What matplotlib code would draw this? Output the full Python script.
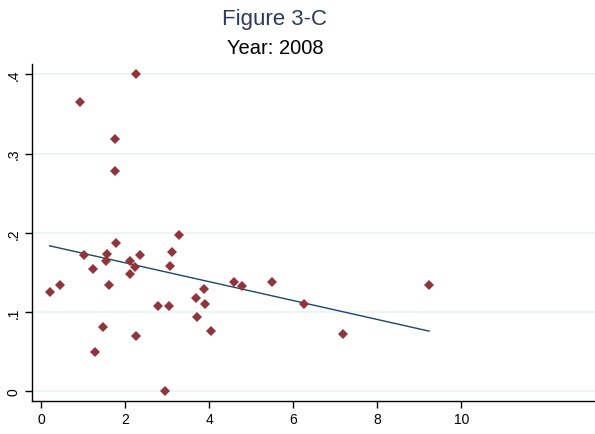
import numpy as np
import matplotlib.pyplot as plt

plt.rcParams['font.family'] = ['Liberation Sans', 'DejaVu Sans']

# observations for 2008
x_vals = [0.195, 0.45, 1.02, 1.22, 1.57, 1.54, 1.77, 1.60, 2.11, 2.11, 2.22, 2.35,
          3.27, 3.11, 3.07, 2.77, 3.04, 3.67, 3.87, 3.89, 3.70, 4.04, 4.59, 4.77,
          5.49, 1.47, 2.24, 1.27, 2.94, 6.26, 7.19, 9.23, 2.24, 0.917, 1.74, 1.74]
y_vals = [0.1256, 0.1337, 0.172, 0.1546, 0.173, 0.165, 0.1866, 0.1337, 0.164, 0.148,
          0.157, 0.172, 0.197, 0.176, 0.158, 0.108, 0.108, 0.118, 0.129, 0.110,
          0.094, 0.0757, 0.1374, 0.1324, 0.1374, 0.0807, 0.0701, 0.0492, 0.0,
          0.1097, 0.0726, 0.1337, 0.4005, 0.365, 0.3185, 0.2778]

# linear fit
fit_intercept = 0.1859
fit_slope = -0.01191

x_ticks = [0, 2, 4, 6, 8, 10]
y_ticks = [0, 0.1, 0.2, 0.3, 0.4]
y_tick_labels = ['0', '.1', '.2', '.3', '.4']

fig = plt.figure(figsize=(5.95, 4.35), dpi=100)
ax = fig.add_axes([31.7 / 595, 1 - 402 / 435, (595 - 31.7) / 595, (402 - 65) / 435])

for yt in y_ticks:
    ax.axhline(yt, color='#eaf2f3', linewidth=1.2, zorder=0)

fx = np.array([min(x_vals), max(x_vals)])
ax.plot(fx, fit_intercept + fit_slope * fx, color='#1a476f', linewidth=1.0, zorder=2)
ax.plot(x_vals, y_vals, linestyle='none', marker='D', markersize=4.6,
        color='#90353b', markeredgewidth=0, zorder=3)

ax.set_xlim(-0.233, 13.18)
ax.set_ylim(-0.0122, 0.413)
ax.set_xticks(x_ticks)
ax.set_yticks(y_ticks)
ax.set_yticklabels(y_tick_labels, rotation=90, va='center')
ax.tick_params(axis='both', direction='out', length=5, width=1, labelsize=10, colors='black')
ax.tick_params(axis='x', pad=3)
ax.tick_params(axis='y', pad=3)

for side in ['top', 'right']:
    ax.spines[side].set_visible(False)
for side in ['left', 'bottom']:
    ax.spines[side].set_linewidth(1.0)
    ax.spines[side].set_color('black')

fig.text(275 / 595, 1 - 19 / 435, 'Figure 3-C', ha='center', va='center',
         fontsize=16, color='#2b3a5e')
fig.text(275 / 595, 1 - 49 / 435, 'Year: 2008', ha='center', va='center',
         fontsize=14.5, color='black')

fig.savefig('out.png', dpi=100, facecolor='white')
